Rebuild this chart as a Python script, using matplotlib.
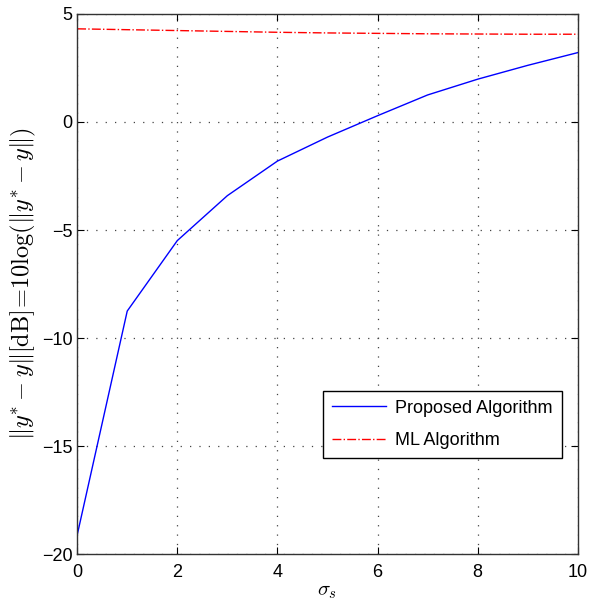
import matplotlib
matplotlib.use('Agg')
import matplotlib.pyplot as plt

plt.rcParams['font.family'] = ['Liberation Sans', 'DejaVu Sans']
plt.rcParams['mathtext.fontset'] = 'cm'

sigma_s = [0, 1, 2, 3, 4, 5, 6, 7, 8, 9, 10]
proposed = [-19.12, -8.75, -5.49, -3.41, -1.81, -0.7, 0.29, 1.25, 1.98, 2.62, 3.21]
ml = [4.31, 4.27, 4.23, 4.19, 4.15, 4.12, 4.10, 4.08, 4.07, 4.06, 4.06]

fig = plt.figure(figsize=(5.89, 6.05), dpi=100)
ax = fig.add_axes([0.131, 0.084, 0.850, 0.893])

ax.plot(sigma_s, proposed, color='#0000ff', linewidth=1.0, label='Proposed Algorithm')
ax.plot(sigma_s, ml, color='#ff0000', linewidth=1.0, linestyle='-.', label='ML Algorithm')

ax.set_xlim(0, 10)
ax.set_ylim(-20, 5)
ax.set_xticks([0, 2, 4, 6, 8, 10])
ax.set_yticks([-20, -15, -10, -5, 0, 5])
ax.tick_params(direction='in', labelsize=13, length=5, top=True, right=True)
ax.tick_params(axis='x', pad=7)
ax.grid(True, linestyle=(0, (1, 6.5)), color='#444444', linewidth=0.9)
for sp in ax.spines.values():
    sp.set_color('#333333')
    sp.set_linewidth(1.0)

ax.set_xlabel(r'$\sigma_s$', fontsize=15, labelpad=1)
ax.set_ylabel(r'$\Vert y^{*}-y\Vert[\mathrm{dB}]\!=\!10\log(\Vert y^{*}-y\Vert)$', fontsize=17.5, labelpad=3)

leg = ax.legend(loc='lower right', bbox_to_anchor=(0.968, 0.178), fontsize=13,
                fancybox=False, framealpha=1, edgecolor='black', handlelength=3.0,
                borderpad=0.5, labelspacing=0.85, handletextpad=0.5, borderaxespad=0)
leg.get_frame().set_linewidth(1.0)

fig.savefig('out.png', dpi=100)
